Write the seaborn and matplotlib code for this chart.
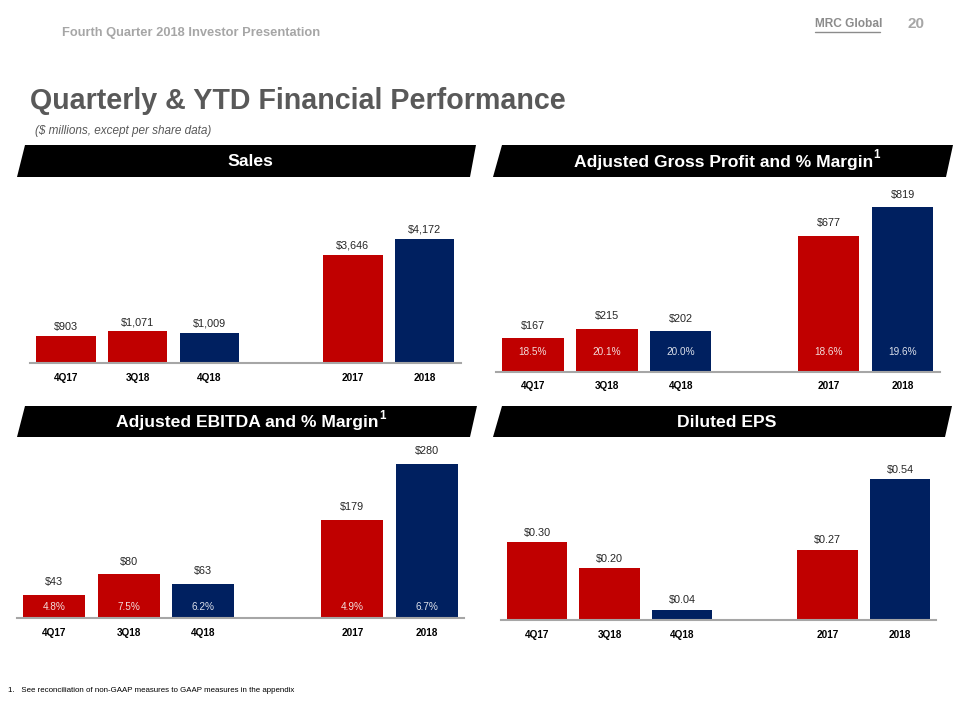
import matplotlib
matplotlib.use("Agg")
import matplotlib.pyplot as plt
from matplotlib import font_manager
from matplotlib.patches import Polygon
from matplotlib.lines import Line2D
import seaborn as sns
import pandas as pd

# ---------------- data ----------------
periods = ["4Q17", "3Q18", "4Q18", "2017", "2018"]
order = ["4Q17", "3Q18", "4Q18", " ", "2017", "2018"]
sales = [903, 1071, 1009, 3646, 4172]
gross_profit = [167, 215, 202, 677, 819]
gp_margin = [18.5, 20.1, 20.0, 18.6, 19.6]
ebitda = [43, 80, 63, 179, 280]
ebitda_margin = [4.8, 7.5, 6.2, 4.9, 6.7]
eps = [0.30, 0.20, 0.04, 0.27, 0.54]

RED = "#C00000"
NAVY = "#002060"
palette = {"4Q17": RED, "3Q18": RED, "4Q18": NAVY, "2017": RED, "2018": NAVY}

sns.set_theme(style="white")
names = {f.name for f in font_manager.fontManager.ttflist}
HAS_NARROW = "Liberation Sans Narrow" in names
NARROW = "Liberation Sans Narrow" if HAS_NARROW else "Liberation Sans"
k = 1.0 if HAS_NARROW else 0.84   # shrink sizes when no condensed face is present
plt.rcParams["font.family"] = ["Liberation Sans", "DejaVu Sans"]

W, H = 960, 720
fig = plt.figure(figsize=(9.6, 7.2), dpi=100)


def fx(x):
    return x / W


def fy(y):
    return 1 - y / H


# ---------------- header ----------------
fig.text(fx(62), fy(33), "Fourth Quarter 2018 Investor Presentation", family=NARROW,
         weight="bold", size=11 * k, color="#A6A6A6", va="center", ha="left")
fig.text(fx(815), fy(24), "MRC Global", family="Liberation Sans", weight="bold",
         size=8.6, color="#8C8C8C", va="center", ha="left")
fig.add_artist(Line2D([fx(815), fx(880)], [fy(32), fy(32)], color="#8C8C8C", lw=1.0,
                      transform=fig.transFigure))
fig.text(fx(908), fy(24), "20", family="Liberation Sans", weight="bold", size=11,
         color="#A6A6A6", va="center", ha="left")

fig.text(fx(30), fy(101), "Quarterly & YTD Financial Performance", family=NARROW,
         weight="bold", size=24.5 * k, color="#595959", va="center", ha="left")
fig.text(fx(35), fy(131), "($ millions, except per share data)", family="Liberation Sans",
         style="italic", size=8.5, color="#595959", va="center", ha="left")

fig.text(fx(8), fy(690), "1.   See reconciliation of non-GAAP measures to GAAP measures in the appendix",
         family=NARROW, size=6.8 * k, color="#000000", va="center", ha="left")

# ---------------- banners ----------------
banners = [
    ("Sales", False, (17, 25, 476, 470), (145, 177)),
    ("Adjusted Gross Profit and % Margin", True, (493, 502, 953, 946), (145, 177)),
    ("Adjusted EBITDA and % Margin", True, (17, 25, 477, 470), (406, 437)),
    ("Diluted EPS", False, (493, 502, 952, 945), (406, 437)),
]
super_texts = []
for title, sup, (xbl, xtl, xtr, xbr), (yt, yb) in banners:
    poly = Polygon([(fx(xbl), fy(yb)), (fx(xtl), fy(yt)), (fx(xtr), fy(yt)), (fx(xbr), fy(yb))],
                   closed=True, facecolor="black", edgecolor="none", transform=fig.transFigure)
    fig.add_artist(poly)
    cx = (xtl + xtr) / 2
    t = fig.text(fx(cx - (4 if sup else 0)), fy((yt + yb) / 2 + 1), title, family=NARROW,
                 weight="bold", size=15 * k, color="white", va="center", ha="center")
    if sup:
        super_texts.append((t, yt, yb))


# ---------------- panels ----------------
def panel(left, right, top, base, ymax, values, fmt, label_off, margins=None, margin_off=None,
          eps_ticks=False):
    ax = fig.add_axes([fx(left), fy(base), (right - left) / W, (base - top) / H])
    df = pd.DataFrame({"period": periods, "value": values})
    sns.barplot(data=df, x="period", y="value", hue="period", palette=palette, order=order,
                hue_order=periods, width=0.83, saturation=1, legend=False, ax=ax,
                edgecolor="none", linewidth=0)
    ax.set_ylim(0, ymax)
    ax.set_xlim(-0.5, len(order) - 0.5)
    for s in ("top", "left", "right"):
        ax.spines[s].set_visible(False)
    ax.spines["bottom"].set_color("#A6A6A6")
    ax.spines["bottom"].set_linewidth(1.5)
    ax.set_yticks([])
    ax.set_xlabel("")
    ax.set_ylabel("")
    ax.tick_params(axis="x", length=0, pad=7)
    for lab in ax.get_xticklabels():
        lab.set_family(NARROW)
        lab.set_fontweight("bold")
        lab.set_fontsize(8.6 * k)
        lab.set_color("black")
    if eps_ticks:
        ax.set_xticks([i - 0.5 for i in range(len(order) + 1)], minor=True)
        ax.tick_params(axis="x", which="minor", length=3, width=1, color="#A6A6A6", direction="out")
    for p, v in zip(periods, values):
        xi = order.index(p)
        ax.annotate(fmt(v), (xi, v), xytext=(0, label_off), textcoords="offset points",
                    ha="center", va="bottom", family=NARROW, size=9.3 * k, color="#262626")
    if margins is not None:
        for p, m in zip(periods, margins):
            xi = order.index(p)
            col = "#F2DCDB" if palette[p] == RED else "#DCE0EA"
            ax.annotate(f"{m:.1f}%", (xi, 0), xytext=(0, margin_off), textcoords="offset points",
                        ha="center", va="center", family="Liberation Sans", size=7.2, color=col)
    return ax


panel(30, 460.5, 190, 363, (363 - 190) / 0.0297, sales, lambda v: f"${v:,.0f}", 3)
panel(496, 939.5, 190, 371.7, (371.7 - 190) / 0.2007, gross_profit, lambda v: f"${v:,.0f}", 5.5,
      margins=gp_margin, margin_off=14.4)
panel(16.7, 464.3, 445, 618.3, (618.3 - 445) / 0.551, ebitda, lambda v: f"${v:,.0f}", 5.5,
      margins=ebitda_margin, margin_off=8.4)
panel(500.7, 936.3, 445, 620, (620 - 445) / 260.5, eps, lambda v: f"${v:.2f}", 3, eps_ticks=True)

# superscripts on banner titles
fig.canvas.draw()
renderer = fig.canvas.get_renderer()
for t, yt, yb in super_texts:
    bb = t.get_window_extent(renderer)
    fig.text(bb.x1 / W + 0.5 / W, fy(yt + 10), "1", family=NARROW, weight="bold", size=10 * k,
             color="white", va="center", ha="left")

fig.savefig("out.png", dpi=100)
